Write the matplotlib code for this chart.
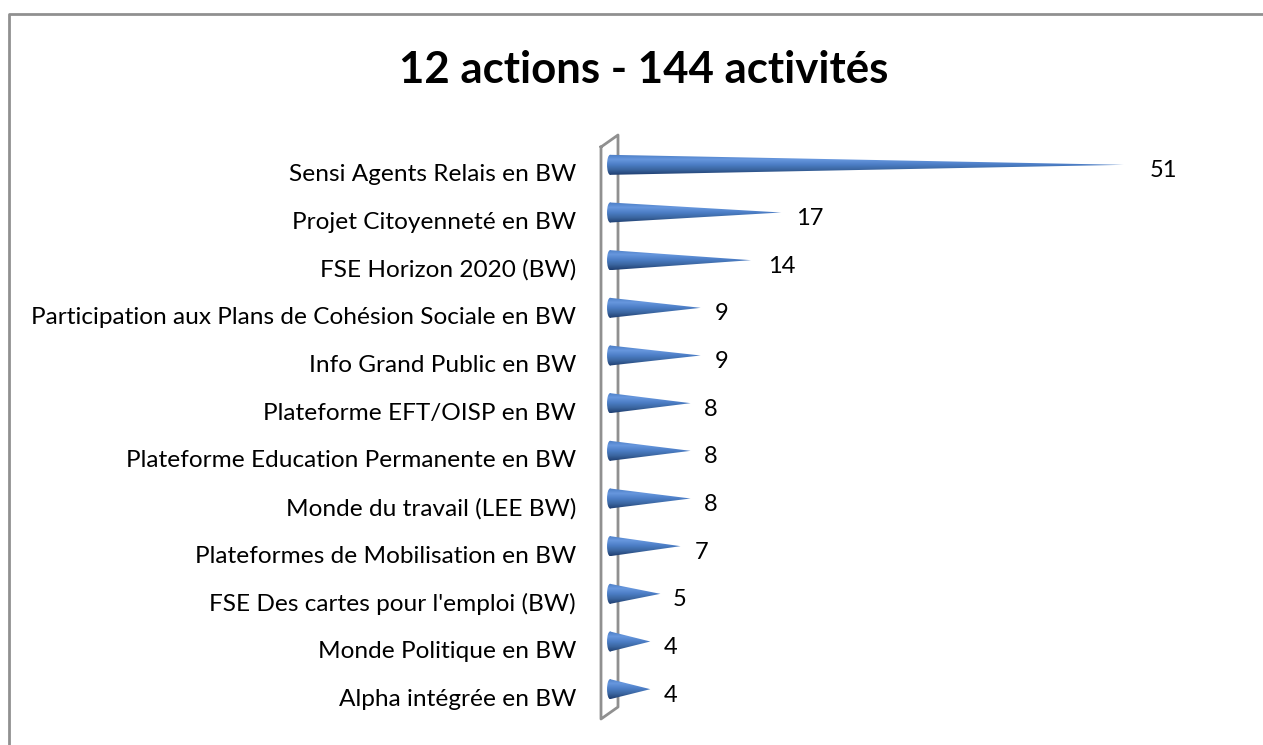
"""12 actions - 144 activités: horizontal cone chart."""
import matplotlib
matplotlib.use("Agg")
import matplotlib.pyplot as plt
import numpy as np
from matplotlib.colors import LinearSegmentedColormap
from matplotlib.lines import Line2D
from matplotlib.patches import Ellipse, Polygon
from matplotlib.transforms import ScaledTranslation

W, H = 1263, 745

categories = [
    "Sensi Agents Relais en BW",
    "Projet Citoyenneté en BW",
    "FSE Horizon 2020 (BW)",
    "Participation aux Plans de Cohésion Sociale en BW",
    "Info Grand Public en BW",
    "Plateforme EFT/OISP en BW",
    "Plateforme Education Permanente en BW",
    "Monde du travail (LEE BW)",
    "Plateformes de Mobilisation en BW",
    "FSE Des cartes pour l'emploi (BW)",
    "Monde Politique en BW",
    "Alpha intégrée en BW",
]
values = [51, 17, 14, 9, 9, 8, 8, 8, 7, 5, 4, 4]

# gap in pixels between a cone tip and the middle of its number
label_gap = {51: 40, 17: 29, 14: 31, 9: 21, 8: 20, 7: 21, 5: 19, 4: 20}

GREY = "#909090"
cone_cmap = LinearSegmentedColormap.from_list(
    "cone", ["#4a7cc4", "#6797de", "#4c7ec6", "#3a659f", "#1f3e70"])

plt.rcParams["font.family"] = ["Lato", "DejaVu Sans"]

fig = plt.figure(figsize=(W / 100, H / 100), dpi=100, facecolor="white")
# one axes in value / category space: value 0 at x=610px, rows 47.64px apart
ax = fig.add_axes([600 / W, 1 - 713 / H, 614 / W, 572 / H])

grad = np.linspace(0, 1, 64).reshape(-1, 1)
half = 0.21
for i, v in enumerate(values):
    im = ax.imshow(grad, cmap=cone_cmap, aspect="auto", zorder=3,
                   extent=(0, v, i + half, i - half))
    im.set_clip_path(Polygon([(0, i - half), (v, i), (0, i + half)],
                             transform=ax.transData))
    # rounded base of the cone
    base = ax.imshow(grad, cmap=cone_cmap, aspect="auto", zorder=3,
                     extent=(-0.3, 0.02, i + half, i - half))
    base.set_clip_path(Ellipse((0, i), 0.6, half * 2, transform=ax.transData))
    ax.annotate(str(v), (v, i), xytext=(label_gap[v], -6), textcoords="offset pixels",
                ha="center", va="center", fontsize=17, color="black")

ax.set_xlim(-1, 60)
ax.set_ylim(len(values) - 0.5, -0.5)
ax.set_yticks(range(len(categories)), categories)
ax.set_xticks([])
ax.tick_params(axis="y", length=0, pad=17.3, labelsize=17.6, labelcolor="black")
# category names sit lower than their cones
shift = ScaledTranslation(0, -8 / 100, fig.dpi_scale_trans)
for lab in ax.get_yticklabels():
    lab.set_transform(lab.get_transform() + shift)
for s in ax.spines.values():
    s.set_visible(False)


# floor/wall outline and outer frame, in pixels
def px_line(xs, ys, color=GREY, lw=2.0, z=1):
    fig.add_artist(Line2D([x / W for x in xs], [1 - y / H for y in ys],
                          color=color, lw=lw, zorder=z))


ax.set_zorder(2)
ax.patch.set_alpha(0)
px_line([601, 601, 618, 618, 601], [147, 719, 707, 135, 147])
px_line([9, 9, W], [H, 14, 14])

fig.text(644 / W, 1 - 70 / H, "12 actions - 144 activités", ha="center", va="center",
         fontsize=31.5, fontweight="bold", color="black")

fig.savefig("out.png", dpi=100, facecolor="white")
